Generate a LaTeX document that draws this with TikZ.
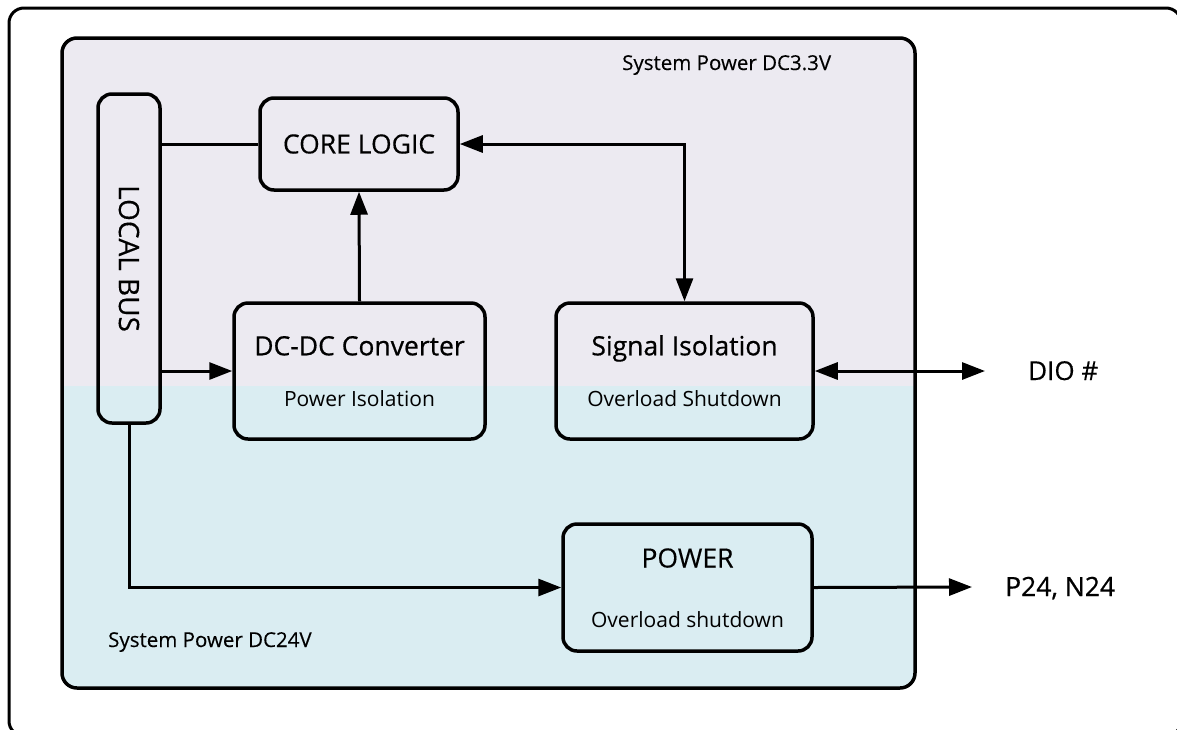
\documentclass[tikz,border=0pt]{standalone}
\usepackage{fontspec}
\setmainfont{Open Sans}
\newfontfamily\semibfont[FakeBold=0.6]{Open Sans}
\newfontfamily\medfont[FakeBold=0.3]{Open Sans}
\usetikzlibrary{positioning,arrows.meta}
\definecolor{panelTop}{RGB}{236,234,241}
\definecolor{panelBot}{RGB}{218,237,242}
\tikzset{
  blk/.style={draw, line width=3.5pt, rounded corners=14pt, align=center, inner sep=0pt,
    font=\medfont\fontsize{26.5}{30}\selectfont},
  ttl/.style={anchor=base, inner sep=0pt, font=\semibfont\fontsize{26.5}{30}\selectfont},
  sub/.style={anchor=base, inner sep=0pt, font=\fontsize{21}{24}\selectfont},
  panellbl/.style={anchor=base west, inner sep=0pt, font=\medfont\fontsize{20.5}{24}\selectfont},
  wire/.style={line width=3pt},
  arrow/.style={-{Triangle[length=23pt,width=17pt]}, line width=3pt},
  darrow/.style={{Triangle[length=23pt,width=17pt]}-{Triangle[length=23pt,width=17pt]}, line width=3pt}
}
\begin{document}
\begin{tikzpicture}[x=1pt, y=-1pt]
      \useasboundingbox (0,0) rectangle (1177,729);

      % Cornice esterna e pannello
      \draw[line width=3pt, rounded corners=15pt] (9,8) rectangle (1181,736);
      \begin{scope}
        \clip[rounded corners=15pt] (62,38) rectangle (915,688);
        \fill[panelTop] (62,38) rectangle (915,386);
        \fill[panelBot] (62,386) rectangle (915,688);
      \end{scope}
      \draw[line width=3.5pt, rounded corners=15pt] (62,38) rectangle (915,688);

      \node (dc33) [panellbl] at (622,70) {System Power DC3.3V};
      \node (dc24) [panellbl] at (108,647) {System Power DC24V};

      % Blocchi
      \node (bus) [blk, minimum width=62pt, minimum height=329pt, font=\medfont\fontsize{28}{30}\selectfont] at (129,258.5) {\rotatebox{-90}{LOCAL BUS}};
      \node (core) [blk, minimum width=198pt, minimum height=92pt] at (359,144) {CORE LOGIC};
      \node (dcdc) [blk, minimum width=251pt, minimum height=136pt] at (359.5,371) {};
      \node (sig) [blk, minimum width=257pt, minimum height=136pt] at (684.5,371) {};
      \node (pwr) [blk, minimum width=249pt, minimum height=127pt] at (687.5,587.5) {};

      \node (dcdcttl) [ttl] at ([yshift=15.7pt]dcdc.center) {DC-DC Converter};
      \node (dcdcsub) [sub] at ([yshift=-35pt]dcdc.center) {Power Isolation};
      \node (sigttl) [ttl] at ([yshift=15.7pt]sig.center) {Signal Isolation};
      \node (sigsub) [sub] at ([yshift=-35pt]sig.center) {Overload Shutdown};
      \node (pwrttl) [ttl, font=\medfont\fontsize{26.5}{30}\selectfont] at ([yshift=20pt]pwr.center) {POWER};
      \node (pwrsub) [sub] at ([yshift=-40pt]pwr.center) {Overload shutdown};

      % Uscite
      \coordinate (dioend) at (985,371);
      \coordinate (p24end) at (972,587);
      \node (dio) [ttl, anchor=base west, font=\medfont\fontsize{26}{30}\selectfont] at (1028,380) {DIO \#};
      \node (p24) [ttl, anchor=base west] at (1005,596) {P24, N24};

      % Collegamenti
      \draw[wire] (bus.east |- core.west) -- (core.west);
      \draw[arrow] (bus.east |- dcdc.west) -- (dcdc.west);
      \draw[arrow] (dcdc.north) -- (core.south);
      \draw[darrow] (core.east) -| (sig.north);
      \draw[darrow] (sig.east) -- (dioend);
      \draw[arrow] (bus.south) |- (pwr.west);
      \draw[arrow] (pwr.east) -- (p24end);

\end{tikzpicture}
\end{document}
